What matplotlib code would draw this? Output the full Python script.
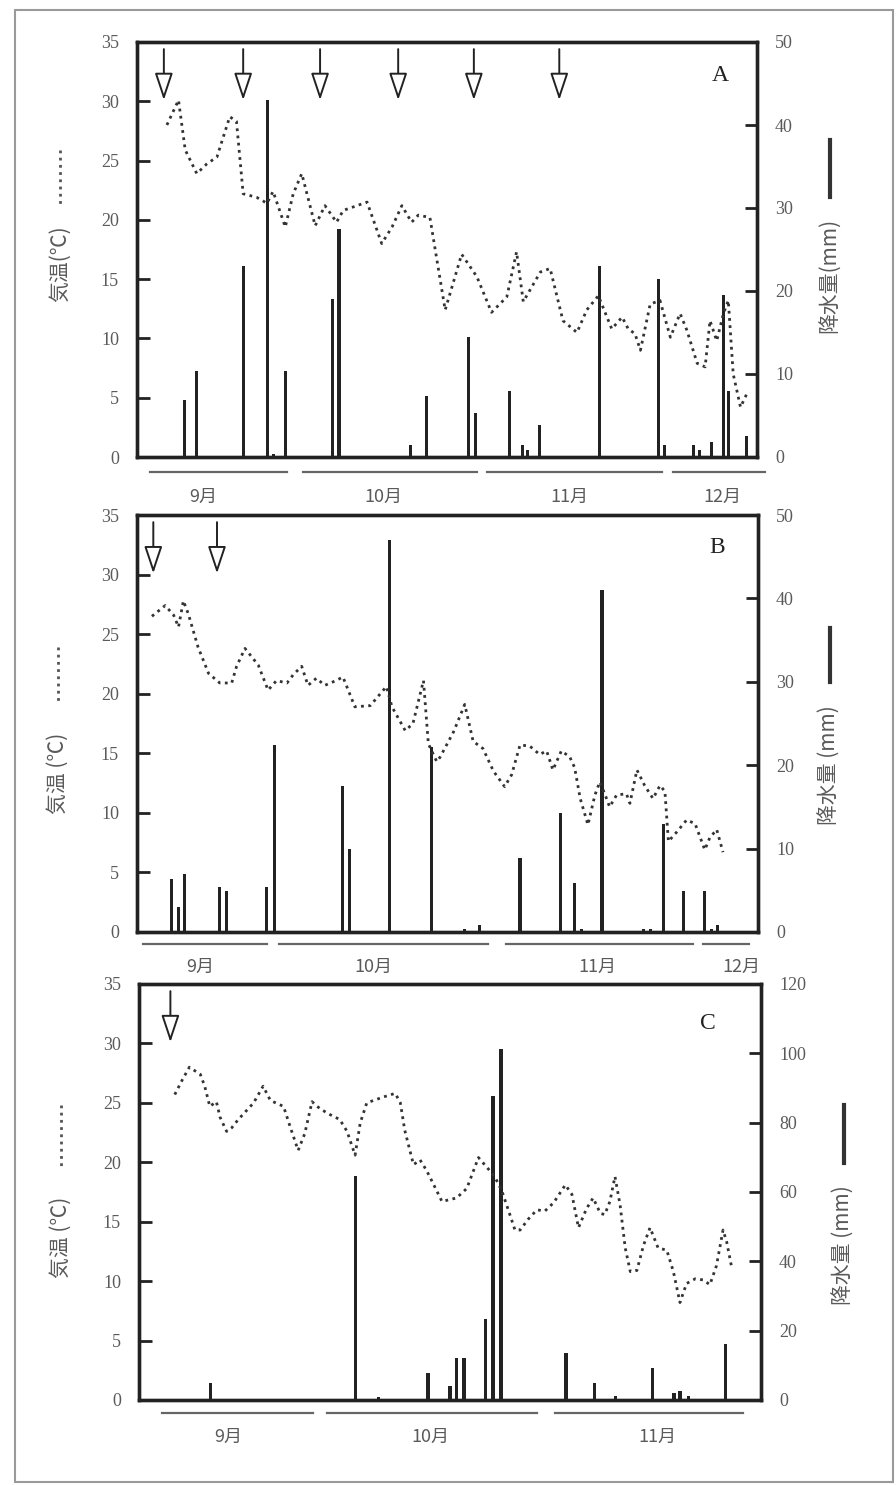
import matplotlib.pyplot as plt
from matplotlib.lines import Line2D
from matplotlib.patches import Rectangle, ArrowStyle

plt.rcParams['font.family'] = ['Liberation Serif', 'DejaVu Serif']
CJK = ['Noto Sans CJK JP', 'DejaVu Sans']
GRAY = '#5a5a5a'
INK = '#222222'

W, H = 896, 1485

# ---- panel A (days since Sept 1) ----
a_temp_day = [9.0, 10.9, 12.0, 13.9, 15.5, 17.2, 19.3, 20.4, 21.5, 23.7, 25.4, 26.4, 28.4, 29.7,
              31.1, 33.3, 34.9, 36.8, 37.9, 39.6, 41.8, 44.2, 45.9, 47.5, 49.1, 50.2, 52.1, 54.6,
              57.3, 59.8, 62.2, 64.7, 66.3, 67.4, 70.2, 71.8, 73.9, 76.2, 77.8, 79.7, 81.9, 83.6,
              84.6, 85.7, 86.6, 88.2, 89.8, 91.5, 93.1, 94.2, 95.9, 97.2, 98.0, 99.1, 100.2,
              101.0, 101.8, 103.0, 104.0]
a_temp = [28.0, 30.1, 25.9, 23.9, 24.7, 25.3, 28.7, 28.3, 22.2, 21.9, 21.4, 22.4, 19.4, 22.2,
          23.9, 19.5, 21.2, 19.8, 20.8, 21.1, 21.5, 18.0, 19.4, 21.2, 19.8, 20.4, 20.2, 12.4,
          17.1, 15.2, 12.2, 13.5, 17.3, 13.1, 15.6, 15.9, 11.5, 10.5, 12.4, 13.6, 10.8, 11.8,
          10.8, 10.4, 9.0, 12.9, 13.2, 10.1, 12.1, 10.7, 7.9, 7.6, 11.5, 9.8, 12.1,
          13.2, 7.0, 4.2, 5.3]
a_rain_day = [11.9, 13.9, 21.6, 25.5, 26.4, 28.4, 36.2, 37.2, 48.9, 51.6, 58.5, 59.5, 65.2,
              67.2, 68.1, 70.0, 79.9, 89.5, 90.5, 95.3, 96.2, 98.3, 100.2, 101.0, 104.0]
a_rain = [6.9, 10.4, 23.0, 43.0, 0.4, 10.4, 19.0, 27.5, 1.5, 7.4, 14.4, 5.3, 8.0,
          1.4, 0.8, 3.9, 23.0, 21.4, 1.5, 1.4, 0.8, 1.8, 19.5, 8.0, 2.5]
a_arrow_day = [8.5, 21.5, 34.1, 46.9, 59.3, 73.3]
a_months = ['9月', '10月', '11月', '12月']
a_month_start = [6.2, 31.3, 61.5, 92.0]
a_month_end = [28.7, 59.8, 90.2, 107.0]
a_month_mid = [14.9, 44.4, 74.9, 100.0]

# ---- panel B ----
b_temp_day = [12.7, 14.6, 15.8, 16.5, 17.2, 17.9, 19.3, 20.8, 22.4, 24.1, 24.8, 26.0, 27.9, 29.3,
              30.5, 32.0, 32.9, 34.1, 35.0, 36.2, 37.4, 38.6, 40.0, 41.7, 43.9, 46.2, 47.0, 48.9,
              50.0, 51.5, 52.2, 53.4, 53.9, 55.8, 57.4, 58.6, 60.0, 61.5, 63.1, 64.1, 65.3, 66.7,
              68.1, 69.1, 70.0, 71.2, 72.4, 73.1, 73.9, 75.0, 76.0, 76.7, 77.4, 78.1, 79.1, 80.5,
              81.0, 82.0, 83.1, 84.3, 85.3, 86.0, 86.5, 87.7, 89.1, 90.3, 91.7, 92.4, 93.4, 94.3]
b_temp = [26.5, 27.4, 26.6, 25.6, 27.8, 26.7, 23.9, 21.7, 20.9, 20.9, 22.3, 23.8, 22.4, 20.3,
          21.1, 20.9, 21.6, 22.3, 20.7, 21.3, 20.7, 21.0, 21.4, 18.9, 19.0, 20.6, 18.9, 16.9,
          17.5, 21.1, 15.8, 14.3, 14.7, 16.8, 19.1, 16.0, 15.4, 13.5, 12.2, 13.2, 15.7, 15.6,
          14.9, 15.2, 13.6, 15.2, 14.7, 13.8, 11.2, 9.0, 11.5, 12.6, 11.6, 10.5, 11.5, 11.6,
          10.8, 13.6, 12.3, 11.2, 12.3, 11.8, 7.6, 8.4, 9.4, 9.1, 6.9, 7.9, 8.6, 6.7]
b_rain_day = [15.5, 16.5, 17.4, 22.3, 23.4, 29.1, 30.2, 39.9, 40.9, 46.7, 52.7, 57.4, 59.5,
              65.3, 71.1, 73.1, 74.1, 77.0, 82.9, 83.9, 85.8, 88.6, 91.6, 92.7, 93.5]
b_rain = [6.4, 3.0, 6.9, 5.4, 4.9, 5.4, 22.4, 17.5, 10.0, 47.0, 22.2, 0.3, 0.8,
          8.9, 14.3, 5.9, 0.4, 41.0, 0.3, 0.3, 12.9, 4.9, 4.9, 0.3, 0.8]
b_arrow_day = [12.9, 22.0]
b_months = ['9月', '10月', '11月', '12月']
b_month_start = [11.4, 30.9, 63.3, 91.4]
b_month_end = [29.1, 60.7, 90.0, 98.0]
b_month_mid = [19.6, 44.3, 76.4, 96.9]

# ---- panel C ----
c_temp_day = [10.1, 11.1, 12.1, 13.6, 14.2, 14.9, 15.8, 16.3, 17.2, 17.9, 18.8, 20.9, 22.2, 23.2,
              25.0, 25.9, 27.0, 27.9, 28.9, 30.0, 31.4, 32.7, 33.7, 34.8, 35.5, 36.4, 38.7, 40.3,
              41.0, 41.6, 42.8, 43.7, 44.6, 45.5, 46.7, 48.7, 50.1, 51.7, 53.1, 54.0, 54.9, 56.0,
              56.7, 57.4, 58.5, 59.7, 60.8, 62.0, 63.6, 64.5, 65.4, 66.5, 67.4, 68.4, 69.0, 69.7,
              70.4, 71.1, 71.8, 72.5, 73.4, 74.3, 75.2, 76.3, 77.5, 78.4, 79.3, 80.2, 81.4, 82.5,
              83.4, 84.3, 85.2, 85.7, 86.4]
c_temp = [25.7, 26.9, 28.0, 27.4, 26.4, 24.7, 25.1, 23.8, 22.6, 22.9, 23.6, 25.0, 26.4, 25.2,
          24.7, 23.0, 21.0, 22.4, 25.1, 24.5, 24.0, 23.6, 22.6, 20.6, 23.3, 25.0, 25.5, 25.8,
          25.0, 22.7, 19.8, 20.2, 19.3, 18.2, 16.7, 17.0, 17.8, 20.4, 19.4, 18.7, 17.6, 15.6,
          14.3, 14.3, 15.2, 16.0, 15.9, 16.6, 18.1, 17.3, 14.5, 16.1, 17.0, 15.7, 15.6, 16.7,
          18.8, 16.4, 12.8, 10.8, 10.9, 13.0, 14.5, 12.8, 12.6, 10.8, 8.2, 9.8, 10.2, 10.1,
          9.7, 11.3, 14.3, 13.3, 11.1]
c_rain_day = [15.0, 34.9, 38.0, 44.8, 47.8, 48.7, 49.7, 52.7, 53.7, 54.8, 63.7, 67.6, 70.5,
              75.5, 77.5, 78.5, 79.3, 80.5, 85.5]
c_rain = [4.8, 64.6, 1.0, 7.7, 4.1, 12.0, 12.0, 23.4, 87.8, 101.2, 13.7, 5.0, 1.2,
          9.1, 0.4, 1.9, 2.6, 1.2, 16.2]
c_arrow_day = [9.5]
c_months = ['9月', '10月', '11月']
c_month_start = [8.4, 31.0, 62.2]
c_month_end = [29.0, 59.7, 87.9]
c_month_mid = [17.4, 45.1, 76.2]

fig = plt.figure(figsize=(W / 100, H / 100), dpi=100)
fig.add_artist(Rectangle((15 / W, 1 - 1482 / H), 878 / W, 1472 / H, transform=fig.transFigure,
                         fill=False, ec='#9a9a9a', lw=1.5))

arrow_style = ArrowStyle('-|>', head_length=1.2, head_width=0.4)


def fig_xy(x, y):
    return x / W, 1 - y / H


def draw_panel(box, xlim, rmax, rstep, tday, temp, rday, rain, bar_w, arrows,
               months, mstart, mend, mmid, line_y, label_y, letter, letter_xy):
    x0, y0, x1, y1 = box
    ax = fig.add_axes([x0 / W, 1 - y1 / H, (x1 - x0) / W, (y1 - y0) / H])
    ax2 = ax.twinx()
    ax2.bar(rday, rain, width=bar_w, color=INK, zorder=2)
    ax.plot(tday, temp, color='#333333', lw=2.0, linestyle=(0, (1, 1.6)), zorder=3)
    ax.set_zorder(ax2.get_zorder() + 1)
    ax.patch.set_visible(False)
    ax.set_xlim(*xlim)
    ax.set_ylim(0, 35)
    ax.set_yticks(range(0, 36, 5))
    ax2.set_ylim(0, rmax)
    ax2.set_yticks(range(0, rmax + 1, rstep))
    ax.set_xticks([])
    for a in (ax, ax2):
        for s in a.spines.values():
            s.set_linewidth(2.4)
            s.set_color(INK)
        a.tick_params(axis='y', direction='in', length=9, width=2, color=INK,
                      labelsize=13, labelcolor=GRAY, pad=13)
    for d in arrows:
        ax.annotate('', xy=(d, 30.1), xytext=(d, 34.4),
                    arrowprops=dict(arrowstyle=arrow_style, mutation_scale=14,
                                    fc='white', ec=INK, lw=1.4, shrinkA=0, shrinkB=0))
    tr = ax.get_xaxis_transform()
    for name, s, e, m in zip(months, mstart, mend, mmid):
        ax.plot([s, e], [line_y, line_y], transform=tr, clip_on=False, color='#666666', lw=1.6)
        ax.text(m, label_y, name, transform=tr, ha='center', va='center',
                fontsize=13, color=GRAY, family=CJK)
    ax.text(letter_xy[0], letter_xy[1], letter, transform=ax.transAxes, ha='center',
            va='center', fontsize=17, color=INK)
    return ax


def side_label(x, text, text_mid, seg, dotted):
    fx, fy = fig_xy(x, text_mid)
    fig.text(fx, fy, text, rotation=90, ha='center', va='center', fontsize=15,
             color=GRAY, family=CJK)
    (sx, sy0), (_, sy1) = fig_xy(x, seg[0]), fig_xy(x, seg[1])
    if dotted:
        fig.add_artist(Line2D([sx, sx], [sy0, sy1], transform=fig.transFigure,
                              color='#555555', lw=2.0, linestyle=(0, (1, 1.6))))
    else:
        fig.add_artist(Line2D([sx, sx], [sy0, sy1], transform=fig.transFigure,
                              color='#333333', lw=3.0))


draw_panel((137, 42, 757, 457), (4.1, 105.7), 50, 10, a_temp_day, a_temp, a_rain_day, a_rain,
           0.5, a_arrow_day, a_months, a_month_start, a_month_end, a_month_mid,
           -0.036, -0.096, 'A', (0.94, 0.92))
draw_panel((137, 515, 758, 932), (10.57, 99.3), 50, 10, b_temp_day, b_temp, b_rain_day, b_rain,
           0.45, b_arrow_day, b_months, b_month_start, b_month_end, b_month_mid,
           -0.029, -0.084, 'B', (0.934, 0.923))
draw_panel((139, 984, 761, 1400), (5.2, 90.4), 120, 20, c_temp_day, c_temp, c_rain_day, c_rain,
           0.45, c_arrow_day, c_months, c_month_start, c_month_end, c_month_mid,
           -0.031, -0.089, 'C', (0.915, 0.906))

side_label(60, '気温(℃)', 264, (150, 207), True)
side_label(830, '降水量(mm)', 275, (140, 197), False)
side_label(58, '気温 (℃)', 773, (647, 703), True)
side_label(830, '降水量 (mm)', 765, (628, 682), False)
side_label(61, '気温 (℃)', 1237, (1105, 1170), True)
side_label(844, '降水量 (mm)', 1245, (1105, 1163), False)

fig.savefig('out.png', dpi=100)
